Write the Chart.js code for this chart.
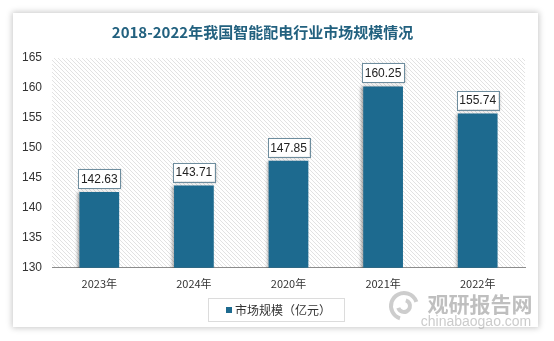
<!DOCTYPE html>
<html>
<head>
<meta charset="utf-8">
<script src="https://cdn.jsdelivr.net/npm/chart.js@4/dist/chart.umd.min.js"></script>
<style>
html,body{margin:0;padding:0;background:#fff;width:554px;height:341px;overflow:hidden;}
#card{position:absolute;left:13px;top:13px;width:525px;height:314px;background:#fff;box-shadow:0 0 6px 1px rgba(0,0,0,0.22);}
#wrap{position:absolute;left:0;top:0;width:554px;height:341px;}
</style>
</head>
<body>
<div id="card"></div>
<div id="wrap"><canvas id="c" width="554" height="341"></canvas></div>
<script>
const categories = ['2023年', '2024年', '2020年', '2021年', '2022年'];
const marketSize = [142.63, 143.71, 147.85, 160.25, 155.74];
const seriesName = '市场规模（亿元）';
const chartTitle = '2018-2022年我国智能配电行业市场规模情况';
const yMin = 130, yMax = 165, yStep = 5;

const BAR = '#1d6a8f';

function makeHatch() {
  const s = 4;
  const p = document.createElement('canvas');
  p.width = s; p.height = s;
  const g = p.getContext('2d');
  g.fillStyle = '#ffffff';
  g.fillRect(0, 0, s, s);
  g.strokeStyle = '#e2e2e2';
  g.lineWidth = 1;
  g.beginPath();
  g.moveTo(-1, -1); g.lineTo(s + 1, s + 1);
  g.moveTo(-1, s - 1); g.lineTo(1, s + 1);
  g.moveTo(s - 1, -1); g.lineTo(s + 1, 1);
  g.stroke();
  return p;
}

const bgPlugin = {
  id: 'hatchBg',
  beforeDraw(chart) {
    const {ctx, chartArea: a} = chart;
    ctx.save();
    ctx.fillStyle = ctx.createPattern(makeHatch(), 'repeat');
    ctx.fillRect(a.left, a.top, a.right - a.left, a.bottom - a.top);
    ctx.restore();
  },
  beforeDatasetsDraw(chart) {
    const ctx = chart.ctx;
    ctx.save();
    ctx.shadowColor = 'rgba(0,0,0,0.35)';
    ctx.shadowBlur = 3;
    ctx.shadowOffsetX = -2;
    ctx.shadowOffsetY = 0;
  },
  afterDatasetsDraw(chart) {
    chart.ctx.restore();
    const ctx = chart.ctx;
    const meta = chart.getDatasetMeta(0);
    ctx.save();
    ctx.font = '12px "Liberation Sans", Arial, sans-serif';
    ctx.textAlign = 'center';
    ctx.textBaseline = 'middle';
    meta.data.forEach((bar, i) => {
      const w = bar.width + 2;
      const h = 19;
      const x = bar.x - w / 2;
      const y = bar.y - 4 - h;
      ctx.save();
      ctx.shadowColor = 'rgba(0,0,0,0.3)';
      ctx.shadowBlur = 3;
      ctx.shadowOffsetX = 1;
      ctx.shadowOffsetY = 1;
      ctx.fillStyle = '#ffffff';
      ctx.fillRect(x, y, w, h);
      ctx.restore();
      ctx.strokeStyle = '#6e8d9e';
      ctx.lineWidth = 1;
      ctx.strokeRect(Math.round(x) + 0.5, Math.round(y) + 0.5, Math.round(w), Math.round(h));
      ctx.fillStyle = '#222';
      ctx.fillText(marketSize[i].toFixed(2), bar.x, y + h / 2 + 1);
    });
    ctx.restore();
  },
  afterDraw(chart) {
    const ctx = chart.ctx;
    ctx.save();
    // legend frame
    const lx = 208, ly = 298, lw = 136, lh = 23;
    ctx.strokeStyle = '#dcdcdc';
    ctx.lineWidth = 1;
    ctx.strokeRect(lx + 0.5, ly + 0.5, lw, lh);
    ctx.fillStyle = BAR;
    ctx.fillRect(226, 307, 6, 6);
    ctx.fillStyle = '#333';
    ctx.font = '12px "Noto Sans CJK SC", sans-serif';
    ctx.textAlign = 'left';
    ctx.textBaseline = 'middle';
    ctx.fillText(chart.data.datasets[0].label, 235, 310);
    // watermark
    ctx.globalAlpha = 0.55;
    ctx.fillStyle = '#8a8a8a';
    ctx.font = 'bold 21px "Noto Sans CJK SC", sans-serif';
    ctx.textAlign = 'center';
    ctx.fillText('观研报告网', 480, 304);
    ctx.font = '14px "Liberation Sans", Arial, sans-serif';
    ctx.fillStyle = '#a0a0a0';
    ctx.fillText('chinabaogao.com', 476, 322);
    ctx.globalAlpha = 0.45;
    ctx.strokeStyle = '#909090';
    ctx.lineWidth = 4;
    ctx.beginPath();
    ctx.arc(404, 306, 13, Math.PI * 0.6, Math.PI * 1.9);
    ctx.stroke();
    ctx.beginPath();
    ctx.arc(404, 306, 6, Math.PI * 1.6, Math.PI * 0.9);
    ctx.stroke();
    ctx.restore();
  }
};

new Chart(document.getElementById('c'), {
  type: 'bar',
  data: {
    labels: categories,
    datasets: [{
      label: seriesName,
      data: marketSize,
      backgroundColor: BAR,
      borderWidth: 0,
      barPercentage: 0.42,
      categoryPercentage: 1
    }]
  },
  options: {
    responsive: false,
    animation: false,
    events: [],
    layout: { padding: { left: 0, right: 29, top: 0, bottom: 42 } },
    plugins: {
      legend: { display: false },
      tooltip: { enabled: false },
      title: {
        display: true,
        text: chartTitle,
        color: '#22617f',
        font: { size: 15, weight: 'bold', family: '"Noto Sans CJK SC", sans-serif' },
        padding: { top: 23, bottom: 17 }
      }
    },
    scales: {
      x: {
        grid: { display: false, drawTicks: false },
        border: { display: true, color: '#8c8c8c', width: 1 },
        ticks: {
          color: '#333',
          padding: 9,
          font: { size: 11, family: '"Noto Sans CJK SC", sans-serif' }
        }
      },
      y: {
        min: yMin,
        max: yMax,
        grid: { display: false, drawTicks: false },
        border: { display: false },
        ticks: {
          stepSize: yStep,
          color: '#333',
          padding: 10,
          font: { size: 12, family: '"Liberation Sans", Arial, sans-serif' }
        },
        afterFit(scale) { scale.width = 52; }
      }
    }
  },
  plugins: [bgPlugin]
});
</script>
</body>
</html>
